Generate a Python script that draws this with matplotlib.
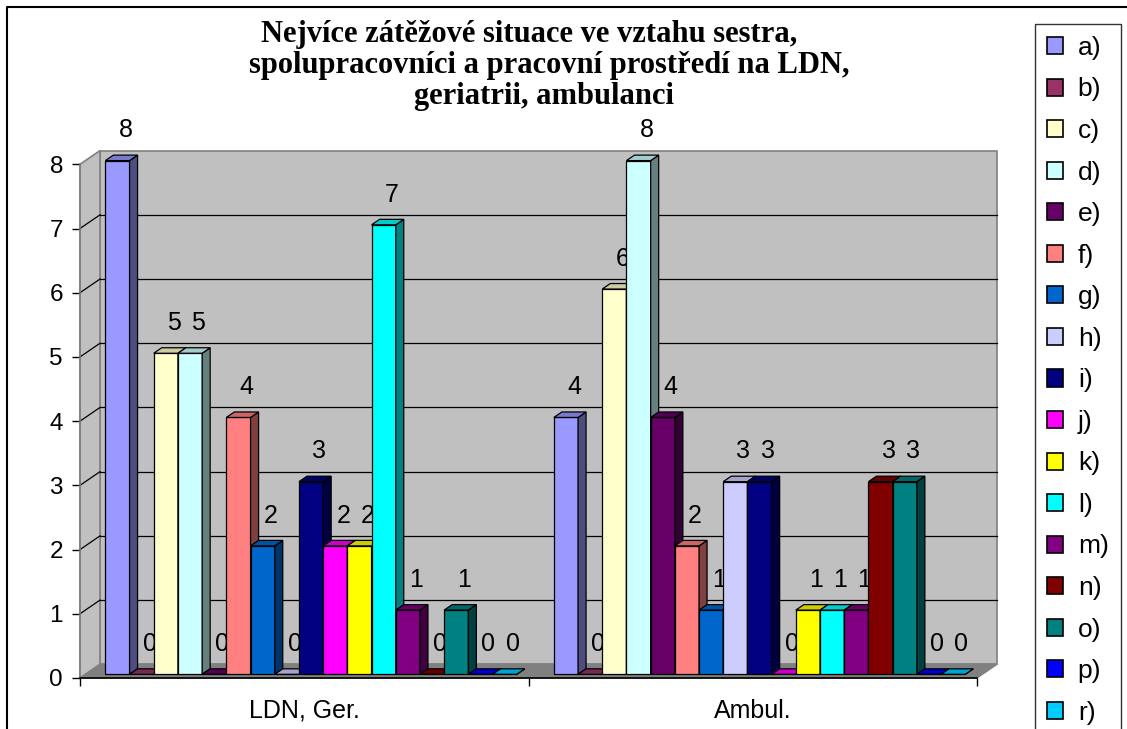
import matplotlib
matplotlib.use("Agg")
import matplotlib.pyplot as plt
from matplotlib.patches import Polygon, Rectangle
from matplotlib.lines import Line2D
from matplotlib.colors import to_rgb

# ---- data ----
categories = ["LDN, Ger.", "Ambul."]
series_names = ["a)", "b)", "c)", "d)", "e)", "f)", "g)", "h)", "i)",
                "j)", "k)", "l)", "m)", "n)", "o)", "p)", "r)"]
ldn_values = [8, 0, 5, 5, 0, 4, 2, 0, 3, 2, 2, 7, 1, 0, 1, 0, 0]
ambul_values = [4, 0, 6, 8, 4, 2, 1, 3, 3, 0, 1, 1, 1, 3, 3, 0, 0]
series_colors = ["#9999FF", "#993366", "#FFFFCC", "#CCFFFF", "#660066",
                 "#FF8080", "#0066CC", "#CCCCFF", "#000080", "#FF00FF",
                 "#FFFF00", "#00FFFF", "#800080", "#800000", "#008080",
                 "#0000FF", "#00CCFF"]
y_ticks = [0, 1, 2, 3, 4, 5, 6, 7, 8]
title_lines = ["Nejvíce zátěžové situace ve vztahu sestra,",
               "spolupracovníci a pracovní prostředí na LDN,",
               "geriatrii, ambulanci"]

# ---- layout ----
W, H = 1127, 729
fig = plt.figure(figsize=(W / 100, H / 100), dpi=100)
fig.patch.set_facecolor("white")

left_px, right_px = 80, 977        # front edge of the floor
base_px, top_px = 678, 164.3       # value 0 and value 8 on the front plane
ax = fig.add_axes([left_px / W, (H - base_px) / H,
                   (right_px - left_px) / W, (base_px - top_px) / H])
ax.set_xlim(0, 2)
ax.set_ylim(0, 8)
ax.set_facecolor("none")

# depth vector (full depth of the box) in data units
px_x = (right_px - left_px) / 2.0
px_y = (base_px - top_px) / 8.0
DX = 20.0 / px_x
DY = 13.7 / px_y
T_FRONT, T_BACK = 0.27, 0.67       # bar front / back planes as depth fraction
BW = 24.2 / px_x                   # bar width
START = 0.0445                     # first bar offset inside a category

wall = "#C0C0C0"
edge_gray = "#808080"

# back wall, side wall, floor
ax.add_patch(Rectangle((DX, DY), 2, 8, fc=wall, ec=edge_gray, lw=1.2,
                       zorder=0, clip_on=False))
ax.add_patch(Polygon([(0, 0), (DX, DY), (DX, 8 + DY), (0, 8)], closed=True,
                     fc=wall, ec=edge_gray, lw=1.2, zorder=0.5, clip_on=False))
ax.add_patch(Polygon([(0, 0), (2, 0), (2 + DX, DY), (DX, DY)], closed=True,
                     fc=edge_gray, ec=edge_gray, lw=1.0, zorder=1, clip_on=False))

# gridlines on back and side walls
for v in y_ticks[1:-1]:
    ax.add_line(Line2D([DX, 2 + DX], [v + DY, v + DY], color="black",
                       lw=0.9, zorder=2, clip_on=False))
    ax.add_line(Line2D([0, DX], [v, v + DY], color="black",
                       lw=0.9, zorder=2, clip_on=False))


def shade(color, k):
    r, g, b = to_rgb(color)
    return (r * k, g * k, b * k)


values_by_cat = [ldn_values, ambul_values]
dxb = (T_BACK - T_FRONT) * DX
dyb = (T_BACK - T_FRONT) * DY
y0 = T_FRONT * DY
handles = []
for j, (name, col) in enumerate(zip(series_names, series_colors)):
    vals = [values_by_cat[c][j] for c in range(len(categories))]
    xs = [c + START + j * BW + T_FRONT * DX for c in range(len(categories))]
    z = 10 + 3 * j
    bars = ax.bar(xs, vals, width=BW, bottom=y0, align="edge", color=col,
                  edgecolor="black", linewidth=0.9, zorder=z, label=name)
    for p in bars.patches:
        p.set_clip_on(False)
    for x0, v in zip(xs, vals):
        top = y0 + v
        side = [(x0 + BW, y0), (x0 + BW + dxb, y0 + dyb),
                (x0 + BW + dxb, top + dyb), (x0 + BW, top)]
        ax.add_patch(Polygon(side, closed=True, fc=shade(col, 0.5),
                             ec="black", lw=0.9, zorder=z + 0.5, clip_on=False))
        lid = [(x0, top), (x0 + BW, top), (x0 + BW + dxb, top + dyb),
               (x0 + dxb, top + dyb)]
        ax.add_patch(Polygon(lid, closed=True, fc=shade(col, 0.8),
                             ec="black", lw=0.9, zorder=z + 1, clip_on=False))
        ax.text(x0 + BW / 2 + dxb / 2 + 4.0 / px_x, top + 0.47, f"{v:g}",
                ha="center", va="center", fontsize=18,
                family="Liberation Sans", color="black",
                zorder=z + 2, clip_on=False)
    handles.append(Rectangle((0, 0), 1, 1, fc=col, ec="black", lw=1.2))

# axes: value axis on the front edge of the side wall, category axis on the floor
for s in ("top", "right"):
    ax.spines[s].set_visible(False)
ax.spines["left"].set_color(edge_gray)
ax.spines["left"].set_linewidth(1.2)
ax.spines["bottom"].set_color("black")
ax.spines["bottom"].set_linewidth(1.2)
ax.spines["left"].set_zorder(3)
ax.spines["bottom"].set_zorder(3)

ax.set_yticks(y_ticks)
ax.set_yticklabels([str(t) for t in y_ticks], family="Liberation Sans",
                   fontsize=17.5)
ax.tick_params(axis="y", direction="out", length=5.8, width=1.0,
               color="black", pad=6.5)

ax.set_xticks([0, 1, 2])
ax.set_xticklabels([])
ax.set_xticks([0.5, 1.5], minor=True)
ax.set_xticklabels(categories, minor=True, family="Liberation Sans",
                   fontsize=18)
ax.tick_params(axis="x", which="major", direction="out", length=5.8,
               width=1.0, color="black")
ax.tick_params(axis="x", which="minor", length=0, pad=15)

# title
title_pos = [(529, 42), (549, 73), (544, 104)]
for line, (cx, by) in zip(title_lines, title_pos):
    fig.text(cx / W, 1 - by / H, line, ha="center", va="baseline",
             family="Liberation Serif", fontweight="bold", fontsize=22)

# legend
leg = fig.legend(handles, series_names, loc="upper left",
                 bbox_to_anchor=(1035 / W, 1 - 24 / H),
                 prop={"family": "Liberation Sans", "size": 19},
                 frameon=True, fancybox=False, shadow=False,
                 handlelength=0.62, handleheight=0.62, handletextpad=0.55,
                 labelspacing=0.665, borderpad=0.45, borderaxespad=0.0)
leg.get_frame().set_edgecolor("black")
leg.get_frame().set_linewidth(1.0)

# chart area border
fig.add_artist(Line2D([7 / W, 7 / W, 1.0], [0.0, 1 - 7 / H, 1 - 7 / H],
                      transform=fig.transFigure, color="black", lw=1.5))

fig.savefig("out.png", dpi=100, facecolor="white")
